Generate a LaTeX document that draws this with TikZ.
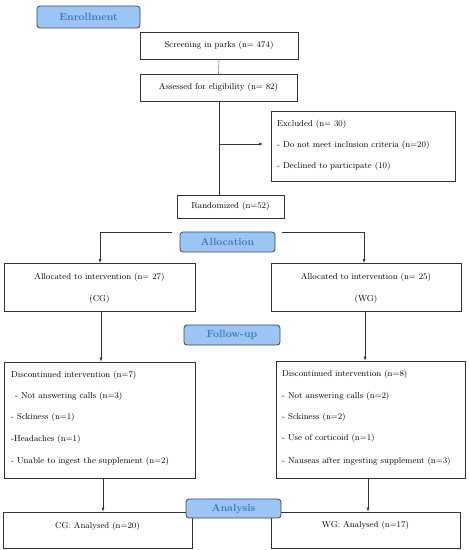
\documentclass[tikz,border=0pt]{standalone}
\usepackage{tikz}
\usetikzlibrary{arrows.meta}
\definecolor{hfill}{RGB}{156,196,245}
\definecolor{hdraw}{RGB}{58,72,96}
\definecolor{htext}{RGB}{58,122,192}
\tikzset{
  hdr/.style={draw=hdraw, line width=0.8pt, rounded corners=3pt, fill=hfill, text=htext, font=\fontsize{10.4}{11}\selectfont\bfseries, inner sep=0pt},
  bx/.style={draw=black!80, line width=0.8pt, inner sep=0pt},
  tx/.style={font=\fontsize{8.6}{10}\selectfont, inner sep=0pt},
  ln/.style={draw=black!80, line width=0.6pt},
  ar/.style={ln, -{Latex[length=4pt,width=3pt]}}
}
\begin{document}
\begin{tikzpicture}[x=1pt,y=-1pt]
\useasboundingbox (0,0) rectangle (469,550);
% headers
\node[hdr, minimum width=103pt, minimum height=22pt] (enr) at (88.5,17) {Enrollment};
% screening
\node[bx, minimum width=158pt, minimum height=27pt] (scr) at (219,45.5) {};
\node[tx] at (scr.center) {Screening in parks (n= 474)};
\node[bx, minimum width=157pt, minimum height=27pt] (ass) at (218.5,87.5) {};
\node[tx] at (ass.center) {Assessed for eligibility (n= 82)};
\draw[ln, draw=black!50] (scr.south) -- (ass.north);
% excluded
\node[bx, minimum width=184pt, minimum height=70pt] (exc) at (363,146) {};
\node[tx, anchor=west] at (277,124) {Excluded (n= 30)};
\node[tx, anchor=west] at (277,145) {- Do not meet inclusion criteria (n=20)};
\node[tx, anchor=west] at (277,166) {- Declined to participate (10)};
% randomized
\node[bx, minimum width=107pt, minimum height=23pt] (ran) at (230.5,206.5) {};
\node[tx] at (ran.center) {Randomized (n=52)};
\coordinate (v1) at (219,101);
\coordinate (v2) at (219,195);
\coordinate (j1) at (219,144);
\coordinate (e1) at (263,144);
\draw[ln] (v1) -- (v2);
\draw[ar] (j1) -- (e1);
% allocation
\node[hdr, minimum width=95pt, minimum height=20pt] (all) at (227.5,242) {Allocation};
\node[bx, minimum width=191pt, minimum height=48pt] (al) at (99.5,287) {};
\node[tx] at (99.5,277) {Allocated to intervention (n= 27)};
\node[tx] at (99.5,299) {(CG)};
\node[bx, minimum width=190pt, minimum height=48pt] (ar) at (366,287) {};
\node[tx] at (366,277) {Allocated to intervention (n= 25)};
\node[tx] at (366,299) {(WG)};
\coordinate (la) at (172,232);
\coordinate (ra) at (282,232);
\draw[ar] (la) -- (100,232) -- (100,263);
\draw[ar] (ra) -- (364,232) -- (364,263);
% follow-up
\node[hdr, minimum width=96pt, minimum height=20pt] (fol) at (232,335) {Follow-up};
\node[bx, minimum width=191pt, minimum height=116pt] (dl) at (99.5,420) {};
\node[tx, anchor=west] at (11,375) {Discontinued intervention (n=7)};
\node[tx, anchor=west] at (12,396) {\ - Not answering calls (n=3)};
\node[tx, anchor=west] at (11,417) {- Sckiness (n=1)};
\node[tx, anchor=west] at (11,439) {-Headaches (n=1)};
\node[tx, anchor=west] at (11,461) {- Unable to ingest the supplement (n=2)};
\node[bx, minimum width=189pt, minimum height=117pt] (dr) at (370.5,419.5) {};
\node[tx, anchor=west] at (282,374) {Discontinued intervention (n=8)};
\node[tx, anchor=west] at (282,396) {- Not answering calls (n=2)};
\node[tx, anchor=west] at (282,417) {- Sckiness (n=2)};
\node[tx, anchor=west] at (282,438) {- Use of corticoid (n=1)};
\node[tx, anchor=west] at (282,461) {- Nauseas after ingesting supplement (n=3)};
\draw[ar] (al.south -| 101,0) -- (dl.north -| 101,0);
\draw[ar] (ar.south -| 365,0) -- (dr.north -| 365,0);
% analysis
\node[bx, minimum width=189pt, minimum height=36pt] (cg) at (97.5,530) {};
\node[tx] at (97.5,526) {CG: Analysed (n=20)};
\node[bx, minimum width=189pt, minimum height=36pt] (wg) at (365.5,530) {};
\node[tx] at (365.5,525) {WG: Analysed (n=17)};
\draw[ar] (dl.south -| 103,0) -- (cg.north -| 103,0);
\draw[ar] (dr.south -| 368,0) -- (wg.north -| 368,0);
\node[hdr, minimum width=95pt, minimum height=19pt] (ana) at (233.5,508.5) {Analysis};
\end{tikzpicture}
\end{document}
